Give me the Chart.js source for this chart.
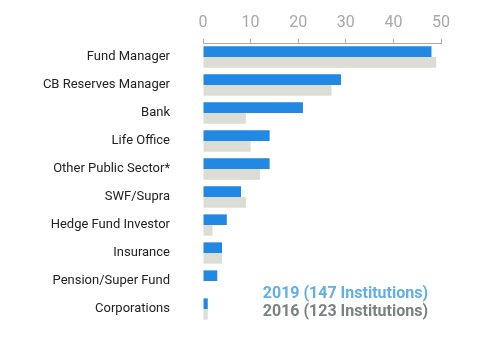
<!DOCTYPE html>
<html>
<head>
<meta charset="utf-8">
<script src="https://cdn.jsdelivr.net/npm/chart.js@4"></script>
<style>
  html, body { margin: 0; padding: 0; background: #fff; }
  #wrap { position: relative; width: 480px; height: 339px; }
  .leg { position: absolute; right: 52px; font: bold 16px Roboto, sans-serif; white-space: nowrap; line-height: 18px; }
</style>
</head>
<body>
<div id="wrap">
  <canvas id="myChart" width="480" height="339"></canvas>
  <div class="leg" style="top:284px;color:#62aee9">2019 (147 Institutions)</div>
  <div class="leg" style="top:302px;color:#7b8080">2016 (123 Institutions)</div>
</div>
<script>
const categories = [
  "Fund Manager",
  "CB Reserves Manager",
  "Bank",
  "Life Office",
  "Other Public Sector*",
  "SWF/Supra",
  "Hedge Fund Investor",
  "Insurance",
  "Pension/Super Fund",
  "Corporations",
];
const values2019 = [48, 29, 21, 14, 14, 8, 5, 4, 3, 1];
const values2016 = [49, 27, 9, 10, 12, 9, 2, 4, 0, 1];
const xTicks = [0, 10, 20, 30, 40, 50];

new Chart("myChart", {
  type: "bar",
  data: {
    labels: categories,
    datasets: [
      {
        label: "2019 (147 Institutions)",
        data: values2019,
        backgroundColor: "#2189e3",
        categoryPercentage: 0.76,
        barPercentage: 1,
      },
      {
        label: "2016 (123 Institutions)",
        data: values2016,
        backgroundColor: "#dcddd5",
        categoryPercentage: 0.76,
        barPercentage: 1,
      },
    ],
  },
  options: {
    indexAxis: "y",
    responsive: false,
    animation: false,
    layout: { padding: { top: 0, right: 39, bottom: 16, left: 0 } },
    plugins: { legend: { display: false }, tooltip: { enabled: false } },
    scales: {
      x: {
        position: "top",
        min: 0,
        max: 50,
        afterBuildTicks: (s) => { s.ticks = xTicks.map((v) => ({ value: v })); },
        afterFit: (s) => { s.height = 43; },
        border: { display: true, color: "#aaaaaa", width: 1 },
        grid: { display: true, drawOnChartArea: false, tickLength: 4, color: "#aaaaaa" },
        ticks: { color: "#a9a9a9", font: { family: "Roboto", size: 16 }, padding: 6 },
      },
      y: {
        afterFit: (s) => { s.width = 203; },
        border: { display: false },
        // invisible tick marks used only to push the labels left
        grid: { display: true, drawOnChartArea: false, drawTicks: true, tickLength: 33, color: "rgba(0,0,0,0)" },
        ticks: { color: "#222222", font: { family: "Roboto", size: 13 }, padding: 0 },
      },
    },
  },
});
</script>
</body>
</html>
